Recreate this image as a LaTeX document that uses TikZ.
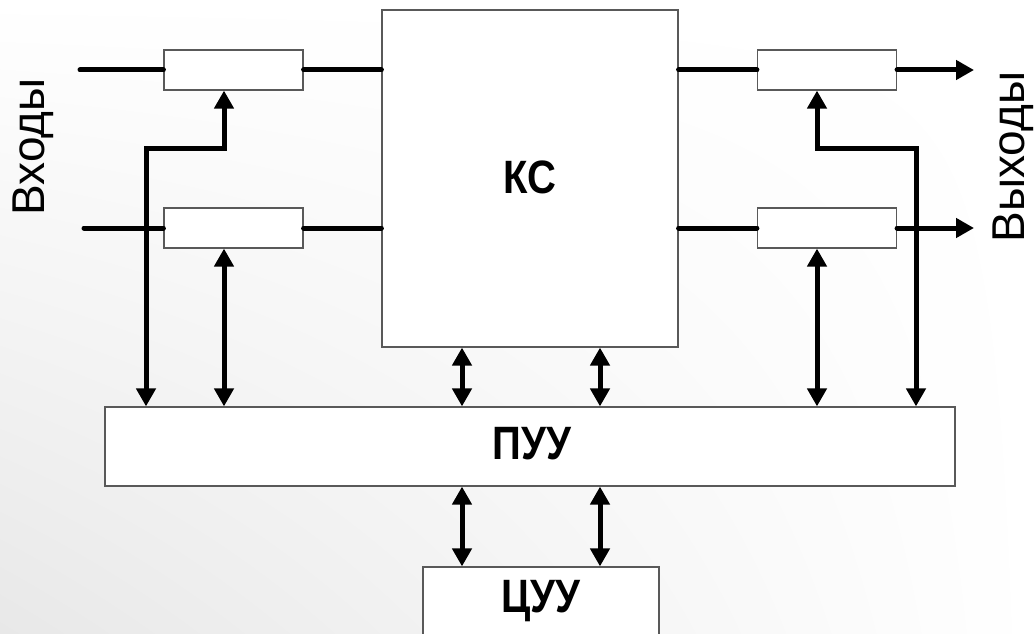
\documentclass[tikz,border=0pt]{standalone}
\usepackage{fontspec}
\setmainfont{Liberation Sans}
\usetikzlibrary{arrows.meta,shadings}
\tikzset{
  box/.style={draw=black!65, line width=1.2pt, fill=white, inner sep=0pt, rectangle},
  reg/.style={box, minimum width=139pt, minimum height=40pt},
  bus/.style={line width=5pt, line cap=round, line join=miter},
  big/.style={font=\fontsize{40}{44}\selectfont\bfseries},
  side/.style={font=\fontsize{46}{50}\selectfont, rotate=90}
}
\newcommand{\tall}[1]{\scalebox{1}[1.17]{#1}}
\begin{document}
\begin{tikzpicture}[x=1pt,y=-1pt, >={Triangle[length=18pt,width=19pt]}]
\useasboundingbox (0,0) rectangle (1034,634);
\clip (0,0) rectangle (1034,634);
\shade[upper left=white, upper right=white, lower right=white, lower left=black!9] (0,0) rectangle (1034,634);

% boxes
\node[box, minimum width=296pt, minimum height=337pt] (KS) at (530,178.5) {};
\node[big] (KStxt) at (530,177) {\tall{КС}};
\node[box, minimum width=850pt, minimum height=79pt] (PUU) at (530,446.5) {};
\node[big] (PUUtxt) at (532,444) {\tall{ПУУ}};
\node[box, minimum width=236pt, minimum height=76pt] (CUU) at (541,605) {};
\node[big] (CUUtxt) at (541,601) {\tall{ЦУУ}};

\node[reg] (LT) at (233.5,70) {};
\node[reg] (LB) at (233.5,228) {};
\node[reg] (RT) at (827,70) {};
\node[reg] (RB) at (827,228) {};

% labels
\node[side] (inlbl) at (33,147) {Входы};
\node[side] (outlbl) at (1013,157) {Выходы};

% coordinates
\coordinate (inT) at (80,70);
\coordinate (inB) at (84,228);
\coordinate (outT) at (974,70);
\coordinate (outB) at (974,228);
\coordinate (a1) at (146,148);
\coordinate (a2) at (224,148);
\coordinate (b1) at (916,148);
\coordinate (b2) at (817,148);
\coordinate (c1) at (462,0);
\coordinate (c2) at (600,0);

% input / output lines
\draw[bus] (inT) -- (LT.west);
\draw[bus] (LT.east) -- (LT.east -| KS.west);
\draw[bus] (inB) -- (LB.west);
\draw[bus] (LB.east) -- (LB.east -| KS.west);
\draw[bus] (KS.east |- RT.west) -- (RT.west);
\draw[bus,->] (RT.east) -- (outT);
\draw[bus] (KS.east |- RB.west) -- (RB.west);
\draw[bus,->] (RB.east) -- (outB);

% control buses
\draw[bus,<->] (PUU.north -| a1) -- (a1) -- (a2) -- (LT.south -| a2);
\draw[bus,<->] (LB.south -| a2) -- (PUU.north -| a2);
\draw[bus,<->] (PUU.north -| b1) -- (b1) -- (b2) -- (RT.south -| b2);
\draw[bus,<->] (RB.south -| b2) -- (PUU.north -| b2);

\draw[bus,<->] (KS.south -| c1) -- (PUU.north -| c1);
\draw[bus,<->] (KS.south -| c2) -- (PUU.north -| c2);
\draw[bus,<->] (PUU.south -| c1) -- (CUU.north -| c1);
\draw[bus,<->] (PUU.south -| c2) -- (CUU.north -| c2);
\end{tikzpicture}
\end{document}
